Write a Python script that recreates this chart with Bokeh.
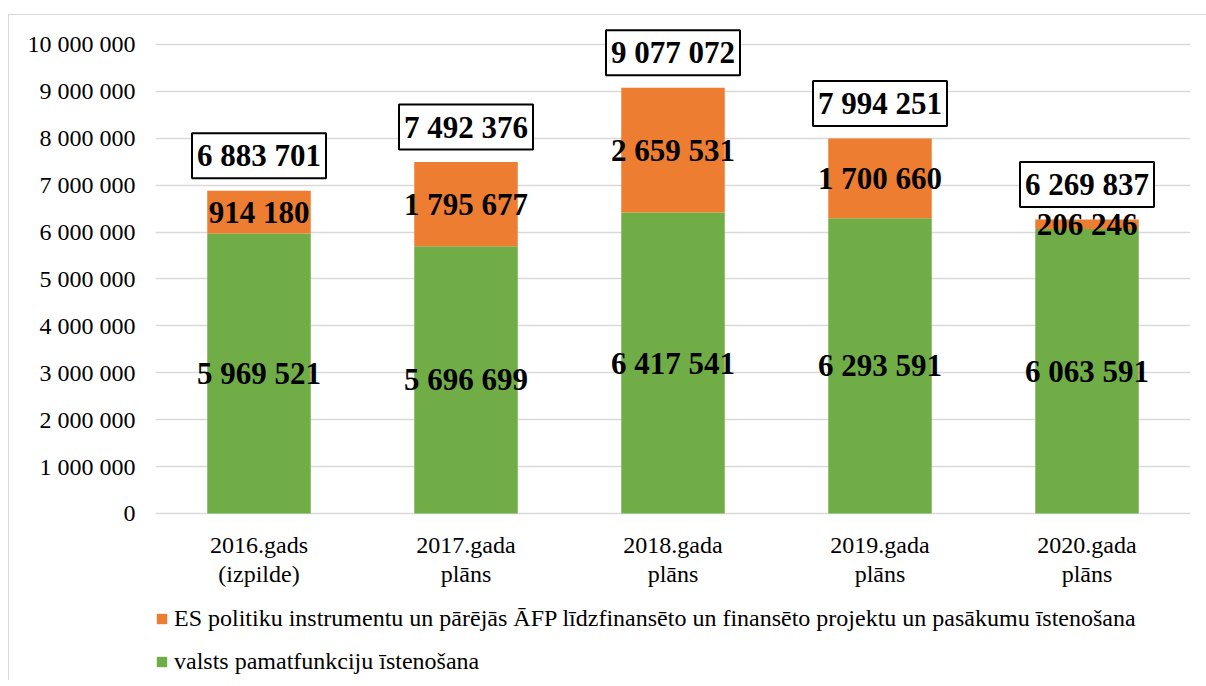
from bokeh.plotting import figure
from bokeh.models import ColumnDataSource, FixedTicker, Legend, LegendItem, Range1d, FactorRange
from bokeh.core.properties import value
from bokeh.embed import file_html
from bokeh.resources import INLINE

categories = ["2016.gads\n(izpilde)", "2017.gada\nplāns", "2018.gada\nplāns", "2019.gada\nplāns", "2020.gada\nplāns"]
valsts = [5969521, 5696699, 6417541, 6293591, 6063591]
es_proj = [914180, 1795677, 2659531, 1700660, 206246]
y_ticks = [0, 1000000, 2000000, 3000000, 4000000, 5000000, 6000000, 7000000, 8000000, 9000000, 10000000]
series_names = ["ES politiku instrumentu un pārējās ĀFP līdzfinansēto un finansēto projektu un pasākumu īstenošana",
                "valsts pamatfunkciju īstenošana"]

def fmt(v):
    return f"{v:,}".replace(",", " ")

totals = [a + b for a, b in zip(valsts, es_proj)]
src = ColumnDataSource(dict(
    cat=categories,
    valsts=valsts,
    es=es_proj,
    total=totals,
    es_bottom=valsts,
    zero=[0] * len(categories),
    valsts_mid=[v / 2 for v in valsts],
    es_mid=[v + e / 2 for v, e in zip(valsts, es_proj)],
    valsts_lbl=[fmt(v) for v in valsts],
    es_lbl=[fmt(e) for e in es_proj],
    total_lbl=[fmt(t) for t in totals],
))

FONT = "Liberation Serif"

# frame reaches down to the legend so that the legend is not clipped
p = figure(x_range=FactorRange(*categories, range_padding=0), y_range=Range1d(-3560800, 10618000),
           frame_width=1035, frame_height=665, output_backend="svg", toolbar_location=None,
           min_border_left=146, min_border_right=16, min_border_top=0, min_border_bottom=0)
p.styles = {"margin-left": "8px", "margin-top": "14px",
            "border-left": "1px solid #d9d9d9", "border-top": "1px solid #d9d9d9"}
p.outline_line_color = None
p.background_fill_color = None
p.border_fill_color = None

p.xaxis.visible = False
p.xgrid.grid_line_color = None
p.ygrid.ticker = FixedTicker(ticks=y_ticks)
p.ygrid.grid_line_color = "#d9d9d9"
p.ygrid.grid_line_width = 1.5

p.yaxis.ticker = FixedTicker(ticks=y_ticks)
p.yaxis.major_label_overrides = {t: fmt(t) for t in y_ticks}
p.yaxis.axis_line_color = None
p.yaxis.major_tick_line_color = None
p.yaxis.minor_tick_line_color = None
p.yaxis.major_label_text_font = FONT
p.yaxis.major_label_text_font_size = "24px"
p.yaxis.major_label_text_color = "black"
p.yaxis.major_label_standoff = 14

r_green = p.vbar(x="cat", bottom=0, top="valsts", width=0.5, source=src,
                 fill_color="#70ad47", line_color=None)
r_orange = p.vbar(x="cat", bottom="es_bottom", top="total", width=0.5, source=src,
                  fill_color="#ed7d31", line_color=None)

# category labels under the baseline
p.text(x="cat", y="zero", text="cat", source=src, y_offset=46,
       text_font=value(FONT), text_font_size="24px", text_color="black",
       text_align="center", text_baseline="middle", text_line_height=1.08)

common = dict(text_font=value(FONT), text_font_size="31px", text_font_style="bold",
              text_color="black", text_align="center", text_baseline="middle", source=src)
p.text(x="cat", y="valsts_mid", text="valsts_lbl", **common)
p.text(x="cat", y="es_mid", text="es_lbl", **common)
p.text(x="cat", y="total", text="total_lbl", y_offset=-35,
       border_line_color="black", border_line_width=2, background_fill_color="white",
       padding=5, **common)

legend = Legend(items=[LegendItem(label=series_names[0], renderers=[r_orange]),
                       LegendItem(label=series_names[1], renderers=[r_green])],
                location=(0, 5), orientation="vertical",
                label_text_font=FONT, label_text_font_size="24px", label_text_color="black",
                glyph_width=13, glyph_height=13, label_height=26, spacing=16,
                label_standoff=6, padding=0, margin=0,
                border_line_color=None, background_fill_alpha=0)
p.add_layout(legend, "center")

open("out.html", "w").write(file_html(p, INLINE))
